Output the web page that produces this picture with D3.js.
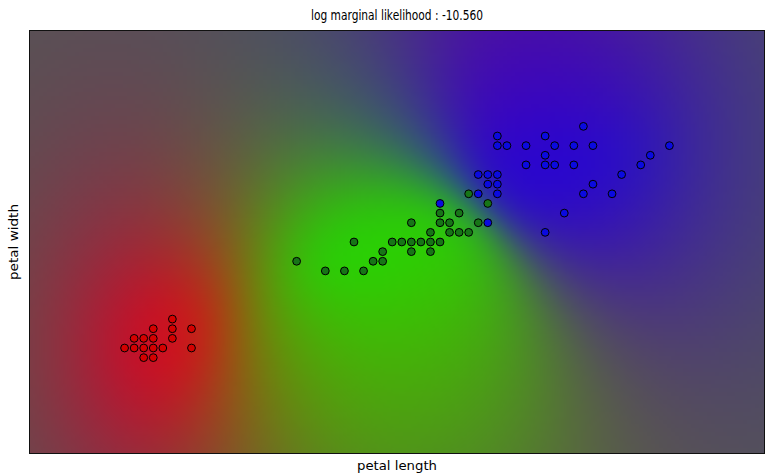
<!DOCTYPE html>
<html>
<head>
<meta charset="utf-8">
<script src="https://cdn.jsdelivr.net/npm/d3@7"></script>
<style>
body { margin: 0; background: #fff; }
svg { display: block; font-family: "DejaVu Sans", sans-serif; }
</style>
</head>
<body>
<script>
// points, [petal length, petal width]
var setosa = [[1.5,0.5],[1.3,0.4],[1.5,0.4],[1.7,0.4],[1.1,0.3],[1.2,0.3],[1.3,0.3],[1.5,0.3],
  [1.0,0.2],[1.1,0.2],[1.2,0.2],[1.3,0.2],[1.4,0.2],[1.7,0.2],[1.2,0.1],[1.3,0.1]];
var versicolor = [[2.8,1.1],[3.1,1.0],[3.3,1.0],[3.5,1.0],[3.4,1.3],[3.6,1.1],[3.7,1.1],[3.7,1.2],
  [3.8,1.3],[3.9,1.3],[4.0,1.3],[4.1,1.3],[4.2,1.3],[4.3,1.3],[4.0,1.2],[4.2,1.2],[4.0,1.5],
  [4.2,1.4],[4.3,1.6],[4.3,1.5],[4.4,1.5],[4.5,1.6],[4.4,1.4],[4.5,1.4],[4.6,1.4],[4.7,1.5],
  [4.8,1.7],[4.6,1.8]];
var virginica = [[4.3,1.7],[4.8,1.5],[4.7,1.8],[4.9,1.8],[4.8,1.9],[4.9,1.9],[4.7,2.0],[4.8,2.0],
  [4.9,2.0],[4.9,2.3],[5.0,2.3],[4.9,2.4],[5.2,2.3],[5.5,2.3],[5.7,2.3],[5.9,2.3],[6.7,2.3],
  [5.4,2.4],[5.8,2.5],[5.4,2.2],[6.5,2.2],[5.2,2.1],[5.4,2.1],[5.5,2.1],[5.7,2.1],[6.4,2.1],
  [6.2,2.0],[5.9,1.9],[5.8,1.8],[6.1,1.8],[5.6,1.6],[5.4,1.4]];
// one-vs-rest kernels: [amplitude, length scale (length), length scale (width)]
var kernels = [[512, 1.2, 1.6], [64, 1.3, 2.0], [128, 2.2, 2.2]];
var pointColors = ["#d40000", "#177517", "#0a0ae0"];
var titleText = "log marginal likelihood : -10.560";
var xLabel = "petal length";
var yLabel = "petal width";
var xRange = [0, 7.7];
var yRange = [-0.9, 3.5];

var width = 766, height = 474;
var margin = {top: 30, right: 1, bottom: 20, left: 29};
var pw = width - margin.left - margin.right, ph = height - margin.top - margin.bottom;

var svg = d3.select("body").append("svg")
    .attr("width", width)
    .attr("height", height);

var x = d3.scaleLinear().domain(xRange).range([margin.left, margin.left + pw]);
var y = d3.scaleLinear().domain(yRange).range([margin.top + ph, margin.top]);

var X = [], labels = [];
[setosa, versicolor, virginica].forEach(function(pts, c) {
    pts.forEach(function(p) { X.push(p); labels.push(c); });
});
var n = X.length;

function sigmoid(z) { return 1 / (1 + Math.exp(-z)); }

function cholesky(A) {
    for (var j = 0; j < n; j++) {
        var s = A[j*n+j];
        for (var k = 0; k < j; k++) s -= A[j*n+k] * A[j*n+k];
        var d = Math.sqrt(s);
        A[j*n+j] = d;
        for (var i = j + 1; i < n; i++) {
            var v = A[i*n+j];
            for (var k = 0; k < j; k++) v -= A[i*n+k] * A[j*n+k];
            A[i*n+j] = v / d;
        }
    }
}
function cholSolve(L, c) {
    var z = new Float64Array(n);
    for (var i = 0; i < n; i++) {
        var s = c[i];
        for (var k = 0; k < i; k++) s -= L[i*n+k] * z[k];
        z[i] = s / L[i*n+i];
    }
    for (var i = n - 1; i >= 0; i--) {
        var s = z[i];
        for (var k = i + 1; k < n; k++) s -= L[k*n+i] * z[k];
        z[i] = s / L[i*n+i];
    }
    return z;
}
function matvec(K, v) {
    var out = new Float64Array(n);
    for (var i = 0; i < n; i++) {
        var s = 0;
        for (var j = 0; j < n; j++) s += K[i*n+j] * v[j];
        out[i] = s;
    }
    return out;
}

// laplace GP classifier, one class against the rest
function fitClassifier(t, kern) {
    var amp = kern[0], ix = 1 / (2 * kern[1] * kern[1]), iy = 1 / (2 * kern[2] * kern[2]);
    var K = new Float64Array(n*n);
    for (var i = 0; i < n; i++) for (var j = 0; j < n; j++) {
        var dx = X[i][0] - X[j][0], dy = X[i][1] - X[j][1];
        K[i*n+j] = amp * Math.exp(-dx*dx*ix - dy*dy*iy);
    }
    var f = new Float64Array(n), a = new Float64Array(n);
    var pi = new Float64Array(n), sW = new Float64Array(n), L = new Float64Array(n*n);
    function factor() {
        for (var i = 0; i < n; i++) { pi[i] = sigmoid(f[i]); sW[i] = Math.sqrt(pi[i] * (1 - pi[i])); }
        for (var i = 0; i < n; i++) for (var j = 0; j < n; j++)
            L[i*n+j] = (i === j ? 1 : 0) + sW[i] * K[i*n+j] * sW[j];
        cholesky(L);
    }
    var psi = -Infinity;
    for (var it = 0; it < 80; it++) {
        factor();
        var b = new Float64Array(n);
        for (var i = 0; i < n; i++) b[i] = sW[i] * sW[i] * f[i] + (t[i] - pi[i]);
        var c = matvec(K, b);
        for (var i = 0; i < n; i++) c[i] *= sW[i];
        var z = cholSolve(L, c);
        for (var i = 0; i < n; i++) a[i] = b[i] - sW[i] * z[i];
        f = matvec(K, a);
        var ll = 0;
        for (var i = 0; i < n; i++) {
            var zz = (2 * t[i] - 1) * f[i];
            ll -= zz > 0 ? Math.log(1 + Math.exp(-zz)) : -zz + Math.log(1 + Math.exp(zz));
        }
        var psiNew = -0.5 * d3.sum(a, function(v, i) { return v * f[i]; }) + ll;
        if (Math.abs(psiNew - psi) < 1e-9) break;
        psi = psiNew;
    }
    factor();
    // sW B^-1 sW, for the latent variance at new points
    var M = new Float64Array(n*n);
    for (var j = 0; j < n; j++) {
        var e = new Float64Array(n);
        e[j] = 1;
        var col = cholSolve(L, e);
        for (var i = 0; i < n; i++) M[i*n+j] = sW[i] * col[i] * sW[j];
    }
    return {amp: amp, ix: ix, iy: iy, M: M, grad: t.map(function(v, i) { return v - pi[i]; })};
}

function predict(m, px, py) {
    var k = new Float64Array(n), mean = 0;
    for (var i = 0; i < n; i++) {
        var dx = px - X[i][0], dy = py - X[i][1];
        k[i] = m.amp * Math.exp(-dx*dx*m.ix - dy*dy*m.iy);
        mean += k[i] * m.grad[i];
    }
    var q = 0;
    for (var i = 0; i < n; i++) {
        var s = 0;
        for (var j = 0; j < n; j++) s += m.M[i*n+j] * k[j];
        q += k[i] * s;
    }
    var v = Math.max(m.amp - q, 1e-12);
    return sigmoid(mean / Math.sqrt(1 + Math.PI * v / 8));
}

var models = kernels.map(function(kern, c) {
    return fitClassifier(labels.map(function(l) { return l === c ? 1 : 0; }), kern);
});

// class probabilities drawn as rgb
var step = 4;
var cols = Math.ceil(pw / step), rows = Math.ceil(ph / step);
var canvas = document.createElement("canvas");
canvas.width = cols;
canvas.height = rows;
var ctx = canvas.getContext("2d");
var img = ctx.createImageData(cols, rows);
for (var r = 0; r < rows; r++) {
    var gy = y.invert(margin.top + (r + 0.5) * ph / rows);
    for (var cc = 0; cc < cols; cc++) {
        var gx = x.invert(margin.left + (cc + 0.5) * pw / cols);
        var p = models.map(function(m) { return predict(m, gx, gy); });
        var s = d3.sum(p);
        var o = (r * cols + cc) * 4;
        img.data[o] = 255 * p[0] / s;
        img.data[o+1] = 255 * p[1] / s;
        img.data[o+2] = 255 * p[2] / s;
        img.data[o+3] = 255;
    }
}
ctx.putImageData(img, 0, 0);

svg.append("image")
    .attr("href", canvas.toDataURL())
    .attr("x", margin.left).attr("y", margin.top)
    .attr("width", pw).attr("height", ph)
    .attr("preserveAspectRatio", "none");

svg.append("g")
    .selectAll("circle")
    .data(X)
    .enter().append("circle")
    .attr("cx", function(d) { return x(d[0]); })
    .attr("cy", function(d) { return y(d[1]); })
    .attr("r", 3.9)
    .attr("fill", function(d, i) { return pointColors[labels[i]]; })
    .attr("stroke", "#000")
    .attr("stroke-width", 1);

svg.append("rect")
    .attr("x", margin.left + 0.5).attr("y", margin.top + 0.5)
    .attr("width", pw - 1).attr("height", ph - 1)
    .attr("fill", "none").attr("stroke", "#111");

svg.append("text")
    .attr("x", margin.left + pw / 2).attr("y", 20)
    .attr("text-anchor", "middle")
    .attr("font-size", 14)
    .attr("textLength", 172).attr("lengthAdjust", "spacingAndGlyphs")
    .text(titleText);

svg.append("text")
    .attr("x", margin.left + pw / 2).attr("y", 470)
    .attr("text-anchor", "middle")
    .attr("font-size", 13)
    .attr("textLength", 80).attr("lengthAdjust", "spacingAndGlyphs")
    .text(xLabel);

svg.append("text")
    .attr("transform", "translate(18," + (margin.top + ph / 2) + ") rotate(-90)")
    .attr("text-anchor", "middle")
    .attr("font-size", 13)
    .attr("textLength", 76).attr("lengthAdjust", "spacingAndGlyphs")
    .text(yLabel);
</script>
</body>
</html>
